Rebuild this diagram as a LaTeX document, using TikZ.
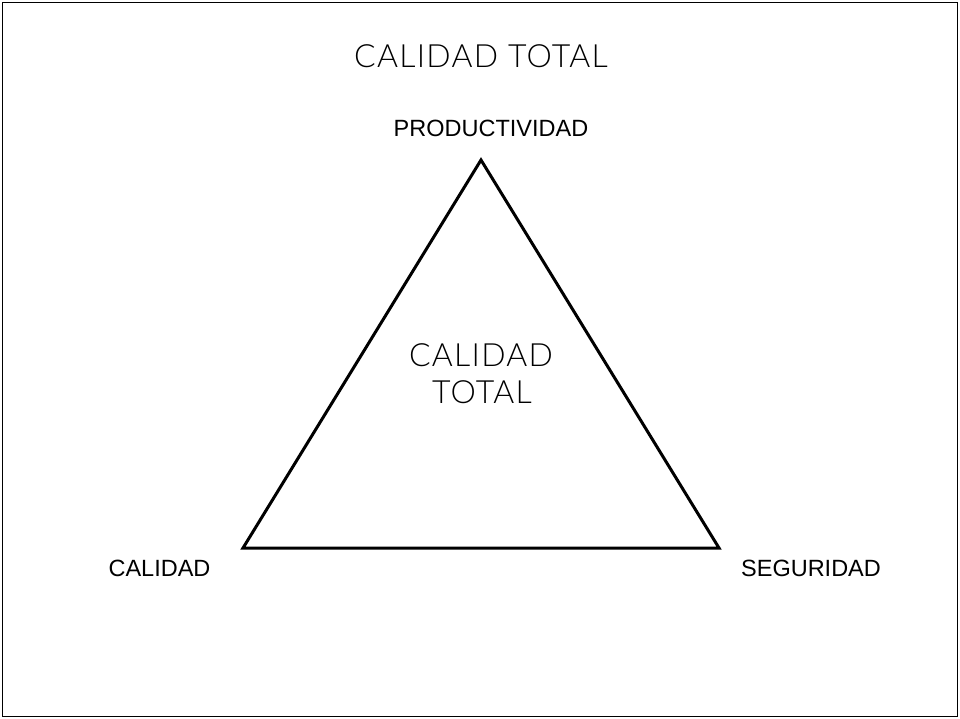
\documentclass[tikz,border=0pt]{standalone}
\usepackage{fontspec}
\setmainfont{Liberation Sans}
\newfontfamily\thinfont[LetterSpace=4]{Lato Light}
\begin{document}
\begin{tikzpicture}[x=1pt,y=-1pt,
  lbl/.style={anchor=base,inner sep=0pt,font=\fontsize{23.5}{28}\selectfont},
  ttl/.style={anchor=base,inner sep=0pt,font=\thinfont\fontsize{32}{38}\selectfont,text=black}]
\useasboundingbox (0,0) rectangle (960,719);
\draw[line width=1.5pt] (2.5,2.5) rectangle (957.5,716.5);
\coordinate (top) at (481,160);
\coordinate (left) at (243,548);
\coordinate (right) at (719,548);
\draw[line width=3pt,line join=miter] (top) -- (left) -- (right) -- cycle;
\node[ttl] (title) at (481,68) {CALIDAD TOTAL};
\node[ttl] (c1) at (481,366) {CALIDAD};
\node[ttl] (c2) at (482,403) {TOTAL};
\node[lbl] (prod) at (491,137) {PRODUCTIVIDAD};
\node[lbl] (cal) at (159.5,576) {CALIDAD};
\node[lbl] (seg) at (811,576) {SEGURIDAD};
\end{tikzpicture}
\end{document}
